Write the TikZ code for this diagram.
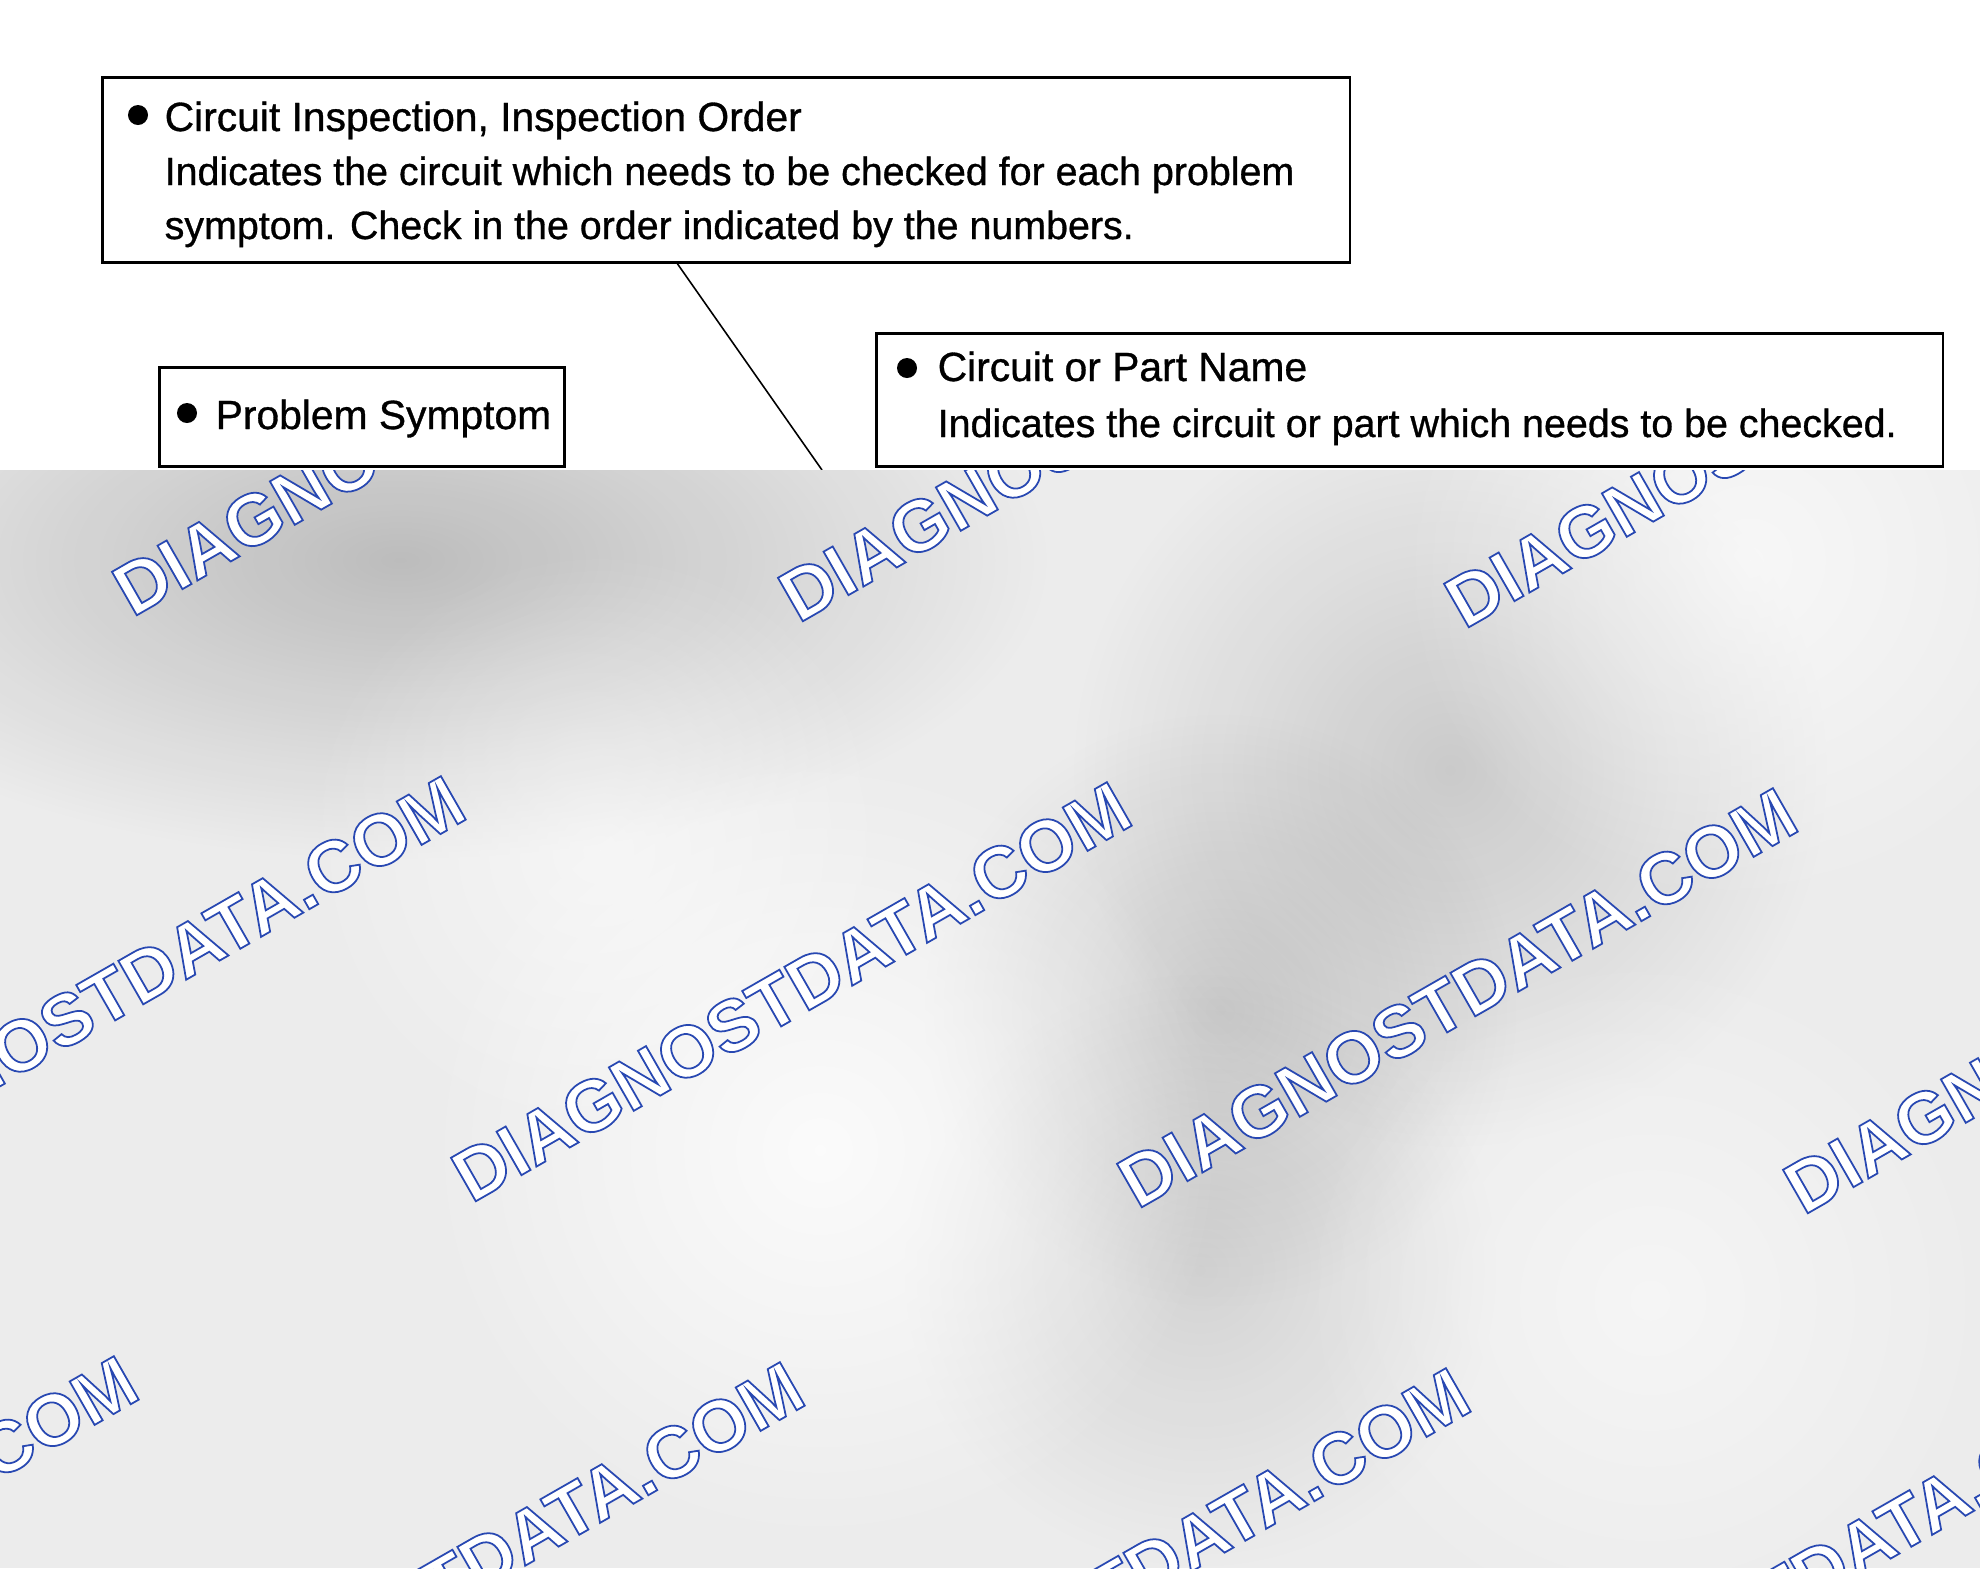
\documentclass[tikz,border=0pt]{standalone}
\usepackage{fontspec}
\setmainfont{Liberation Sans}
\newfontfamily\notefont[FakeBold=0.8]{Liberation Sans}
\usepackage{xcolor}
\usetikzlibrary{calc,fadings}

\definecolor{wmblue}{RGB}{40,72,178}
\definecolor{paper}{RGB}{236,236,236}
\tikzfading[name=softblob, inner color=transparent!0, outer color=transparent!100]

\tikzset{
  notebox/.style={draw, line width=0.75pt, anchor=north west, inner sep=0pt},
  notetext/.style={anchor=base west, inner sep=0pt, font=\notefont\fontsize{11.2pt}{13pt}\selectfont},
  notehead/.style={notetext, font=\notefont\fontsize{11.6pt}{13pt}\selectfont},
  bulletdot/.style={circle, fill=black, inner sep=0pt, minimum size=0.2cm},
  blob/.style={path fading=softblob},
  wmark/.style={anchor=base west, inner sep=0pt, rotate=29.8, font=\bfseries\fontsize{20.7pt}{22pt}\selectfont}
}
% outlined watermark word: white fill, blue stroke
\newcommand{\wmword}{\color{white}\special{pdf:literal direct 2 Tr 0.5 w 0.157 0.282 0.698 RG}DIAGNOSTDATA.COM\special{pdf:literal direct 0 Tr}}

\begin{document}
\begin{tikzpicture}[x=0.01cm, y=-0.01cm]
\useasboundingbox (0,0) rectangle (1980,1568);
\fill[white] (0,0) rectangle (1980,1568);

% the three note boxes
\node[notebox, minimum width=12.47cm, minimum height=1.85cm] (insp) at (101,76) {};
\node[notebox, minimum width=4.05cm, minimum height=0.99cm] (symp) at (158,366) {};
\node[notebox, minimum width=10.66cm, minimum height=1.33cm] (part) at (875,332) {};

\node[bulletdot] (insp-dot) at (138,115) {};
\node[notehead] (insp-head) at (164,131) {Circuit Inspection, Inspection Order};
\node[notetext] (insp-l1) at (164,185) {Indicates the circuit which needs to be checked for each problem};
\node[notetext] (insp-l2) at (164,239) {symptom. Check in the order indicated by the numbers.};

\node[bulletdot] (symp-dot) at (187,413) {};
\node[notehead] (symp-head) at (215,429) {Problem Symptom};

\node[bulletdot] (part-dot) at (907,368) {};
\node[notehead] (part-head) at (937,381) {Circuit or Part Name};
\node[notetext] (part-l1) at (937,437) {Indicates the circuit or part which needs to be checked.};

% leader line
\coordinate (lead-end) at (822,470);
\draw[line width=0.45pt] ($(insp.south west)!0.461!(insp.south east)$) -- (lead-end);

% grey lower half with watermark
\begin{scope}
  \clip (0,470) rectangle (1980,1568);
  \fill[paper] (0,470) rectangle (1980,1568);
  \fill[blob, black, opacity=0.2] (400,560) ellipse (650 and 300);
  \fill[blob, black, opacity=0.14] (1450,770) circle (380);
  \fill[blob, black, opacity=0.12] (1220,1010) circle (300);
  \fill[blob, black, opacity=0.1] (1200,1270) circle (300);
  \fill[blob, white, opacity=0.8] (820,1150) circle (400);
  \fill[blob, white, opacity=0.6] (1750,560) circle (350);
  \fill[blob, white, opacity=0.5] (600,850) circle (300);
  \fill[blob, white, opacity=0.5] (1650,1300) circle (350);
  \foreach \i in {0,...,3}
    \foreach \j in {0,1,2}
      \node[wmark] (wm-\i-\j) at ($(132,618)+\i*(666,6)+\j*(-327,580)$) {\wmword};
\end{scope}
\end{tikzpicture}
\end{document}
